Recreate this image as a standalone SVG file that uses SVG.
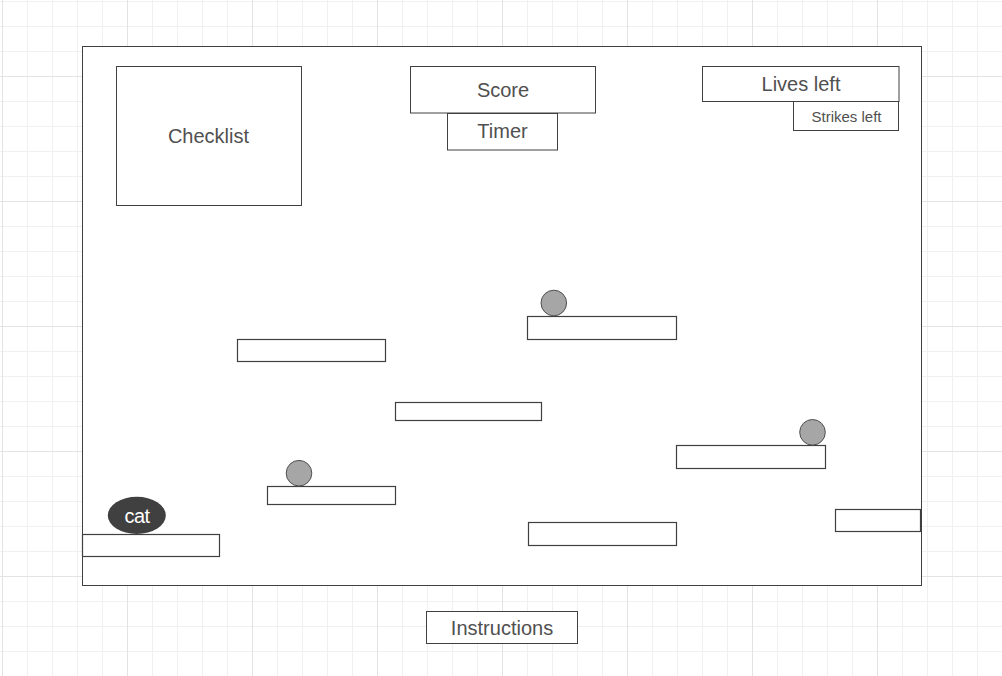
<svg xmlns="http://www.w3.org/2000/svg" width="1002" height="676" viewBox="0 0 1002 676">
<defs>
<pattern id="minor" x="2" y="1" width="25" height="25" patternUnits="userSpaceOnUse">
<path d="M0.5 0V25M0 0.5H25" fill="none" stroke="#f0f0f0" stroke-width="1"/>
</pattern>
<pattern id="major" x="2" y="76" width="125" height="125" patternUnits="userSpaceOnUse">
<path d="M0.5 0V125M0 0.5H125" fill="none" stroke="#e3e3e3" stroke-width="1"/>
</pattern>
<style>
.box{fill:#ffffff;stroke:#404040;stroke-width:1}
.plat{fill:#ffffff;stroke:#404040;stroke-width:1.2}
.ball{fill:#a6a6a6;stroke:#505050;stroke-width:1}
.t{font-family:"Liberation Sans",Arial,sans-serif;fill:#505050;text-anchor:middle;dominant-baseline:central}
.t20{font-size:20px}
.t15{font-size:15px}
</style>
</defs>
<rect width="1002" height="676" fill="#ffffff"/>
<rect width="1002" height="676" fill="url(#minor)"/>
<rect width="1002" height="676" fill="url(#major)"/>

<g id="frame"><rect class="box" x="82.5" y="46.5" width="839" height="539"/></g>

<g id="checklist"><rect class="box" x="116.5" y="66.5" width="185" height="139"/><text class="t t20" x="208.5" y="136">Checklist</text></g>
<g id="score"><rect class="box" x="410.5" y="66.5" width="185" height="46.5"/><text class="t t20" x="503" y="90">Score</text></g>
<g id="timer"><rect class="box" x="447.5" y="113.5" width="110" height="36.5"/><text class="t t20" x="502.5" y="131">Timer</text></g>
<g id="lives"><rect class="box" x="702.5" y="66.5" width="196.5" height="35"/><text class="t t20" x="801" y="84">Lives left</text></g>
<g id="strikes"><rect class="box" x="793.5" y="101.5" width="105" height="29"/><text class="t t15" x="846.5" y="116.5">Strikes left</text></g>
<g id="instructions"><rect class="box" x="426.5" y="611.5" width="151" height="32"/><text class="t t20" x="502" y="627.5">Instructions</text></g>

<g id="platform1"><rect class="plat" x="237.5" y="339.5" width="148" height="22"/></g>
<g id="platform2"><rect class="plat" x="527.5" y="316.5" width="149" height="23"/></g>
<g id="platform3"><rect class="plat" x="395.5" y="402.5" width="146" height="18"/></g>
<g id="platform4"><rect class="plat" x="676.5" y="445.5" width="149" height="23"/></g>
<g id="platform5"><rect class="plat" x="267.5" y="486.5" width="128" height="18"/></g>
<g id="platform6"><rect class="plat" x="82.5" y="534.5" width="137" height="22"/></g>
<g id="platform7"><rect class="plat" x="528.5" y="522.5" width="148" height="23"/></g>
<g id="platform8"><rect class="plat" x="835.5" y="509.5" width="85" height="22"/></g>

<g id="ball1"><circle class="ball" cx="553.8" cy="303" r="12.8"/></g>
<g id="ball2"><circle class="ball" cx="299" cy="473.2" r="12.8"/></g>
<g id="ball3"><circle class="ball" cx="812.5" cy="432.3" r="12.8"/></g>

<g id="cat"><ellipse cx="136.8" cy="515.4" rx="29" ry="18.6" fill="#404040"/><text class="t t20" x="137" y="516" fill="#ffffff" style="fill:#ffffff;letter-spacing:-0.5px">cat</text></g>

<g id="connectors"></g>
</svg>
